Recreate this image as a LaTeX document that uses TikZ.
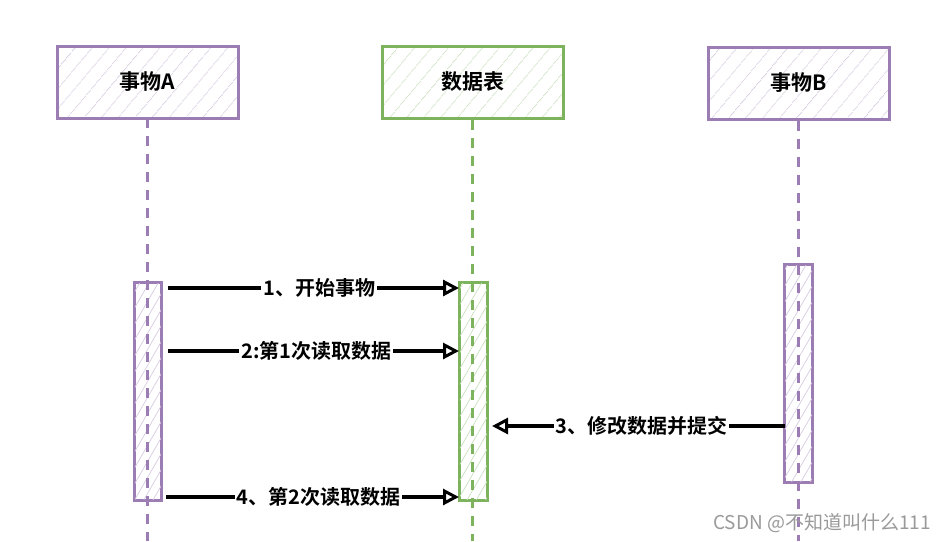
\documentclass[tikz,border=0pt]{standalone}
\usepackage{fontspec}
\newfontfamily\cjk{Noto Sans CJK SC}[BoldFont={Noto Sans CJK SC Bold}]
\usetikzlibrary{arrows.meta,patterns.meta}
\definecolor{pur}{HTML}{9C7DB3}
\definecolor{grn}{HTML}{7DB35C}
\definecolor{wm}{HTML}{9A9A9A}
\tikzset{
  actor/.style={draw=#1, line width=3pt, minimum width=181pt, minimum height=72pt, inner sep=0pt,
    pattern={Lines[angle=50,distance=13pt,line width=0.8pt]}, pattern color=#1!35, font=\cjk\bfseries\fontsize{21}{24}\selectfont},
  lifeline/.style={draw=#1, line width=3.2pt, dash pattern=on 10pt off 8pt},
  actbox/.style={draw=#1, line width=1.6pt, fill=white},
  acthatch/.style={pattern={Lines[angle=60,distance=8pt,line width=0.7pt]}, pattern color=#1!40},
  msg/.style={line width=3.2pt, -{Triangle[open,length=16pt,width=16pt,line width=3pt]}},
  mlabel/.style={fill=white, inner sep=2pt, font=\cjk\bfseries\fontsize{20}{23}\selectfont}
}
\begin{document}
\begin{tikzpicture}[x=1pt,y=-1pt]
\useasboundingbox (0,0) rectangle (947,541);
\fill[white] (0,0) rectangle (947,541);
% actors
\node[actor=pur] (A) at (147.5,82) {事物A};
\node[actor=grn] (T) at (472.5,82) {数据表};
\node[actor=pur] (B) at (798.5,83) {事物B};
% lifelines
\coordinate (Aend) at (147.5,541);
\coordinate (Tend) at (472.5,541);
\coordinate (Bend) at (798.5,541);
% activation boxes
\node[actbox=pur, minimum width=26pt, minimum height=217pt, inner sep=0pt] (aA) at (148,391.5) {};
\node[actbox=grn, minimum width=27pt, minimum height=217pt, inner sep=0pt] (aT) at (473.5,391.5) {};
\node[actbox=pur, minimum width=27pt, minimum height=217pt, inner sep=0pt] (aB) at (798.5,373.5) {};
\fill[acthatch=pur] (aA.north west) rectangle (aA.south east);
\fill[acthatch=grn] (aT.north west) rectangle (aT.south east);
\fill[acthatch=pur] (aB.north west) rectangle (aB.south east);
\draw[lifeline=pur] (A.south) -- (Aend);
\draw[lifeline=grn] (T.south) -- (Tend);
\draw[lifeline=pur] (B.south) -- (Bend);
\draw[pur, line width=1.6pt] (aA.north west) rectangle (aA.south east);
\draw[grn, line width=1.6pt] (aT.north west) rectangle (aT.south east);
\draw[pur, line width=1.6pt] (aB.north west) rectangle (aB.south east);
% messages
\coordinate (m1s) at (168,288); \coordinate (m1e) at (459,288);
\coordinate (m2s) at (168,351); \coordinate (m2e) at (459,351);
\coordinate (m3s) at (785,426); \coordinate (m3e) at (492,426);
\coordinate (m4s) at (166,497); \coordinate (m4e) at (459,497);
\draw[msg] (m1s) -- node[mlabel, pos=0.52]{1、开始事物} (m1e);
\draw[msg] (m2s) -- node[mlabel, pos=0.51]{2:第1次读取数据} (m2e);
\draw[msg] (m3s) -- node[mlabel, pos=0.49]{3、修改数据并提交} (m3e);
\draw[msg] (m4s) -- node[mlabel, pos=0.52]{4、第2次读取数据} (m4e);
% watermark
\node[text=wm, font=\cjk\fontsize{19}{22}\selectfont, anchor=east, inner sep=0pt] (wmk) at (931,523) {CSDN @不知道叫什么111};
\end{tikzpicture}
\end{document}
